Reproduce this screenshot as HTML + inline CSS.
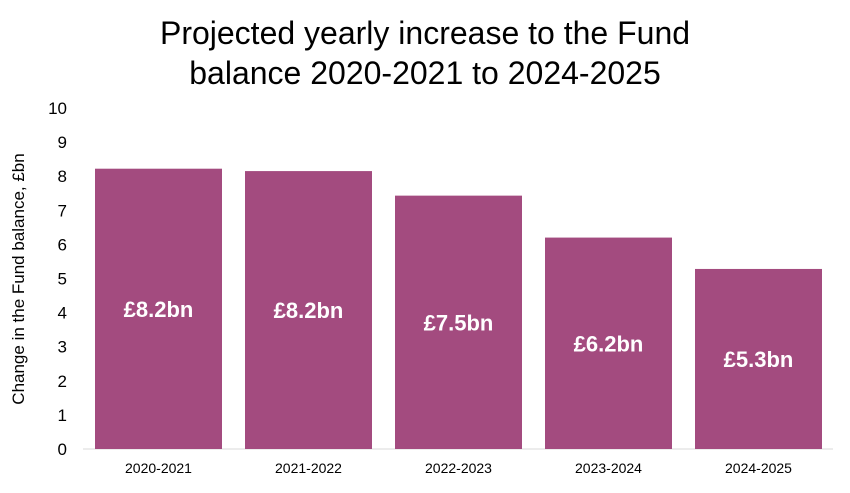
<!DOCTYPE html>
<html><head><meta charset="utf-8"><style>
body{margin:0;background:#fff;font-family:"Liberation Sans",Arial,sans-serif}
</style></head><body>
<svg width="850" height="488" viewBox="0 0 850 488">
<text x="425" y="44" text-anchor="middle" font-size="32" fill="#000">Projected yearly increase to the Fund</text>
<text x="425" y="84" text-anchor="middle" font-size="32" fill="#000">balance 2020-2021 to 2024-2025</text>
<text transform="translate(24,279) rotate(-90)" text-anchor="middle" font-size="17" fill="#000">Change in the Fund balance, £bn</text>
<g id="yticks"></g>
<line x1="83" y1="449" x2="833" y2="449" stroke="#d9d9d9" stroke-width="1"/>
<g id="bars"></g>
</svg>
<script>
const categories=["2020-2021","2021-2022","2022-2023","2023-2024","2024-2025"];
const values=[8.22,8.15,7.43,6.2,5.28];
const valueLabels=["£8.2bn","£8.2bn","£7.5bn","£6.2bn","£5.3bn"];
const yTicks=[0,1,2,3,4,5,6,7,8,9,10];
const NS="http://www.w3.org/2000/svg";
const y0=449,pxPerUnit=34.1,xStart=83.5,step=150,barW=127;
function yScale(v){return y0-v*pxPerUnit;}
function xScale(i){return xStart+i*step;}
const yt=document.getElementById("yticks");
yTicks.forEach(t=>{
 const e=document.createElementNS(NS,"text");
 
 
 e.setAttribute("x",67);e.setAttribute("y",yScale(t)+6);
 e.setAttribute("text-anchor","end");e.setAttribute("font-size","17");
 e.textContent=t;yt.appendChild(e);
});
const bg=document.getElementById("bars");
categories.forEach((c,i)=>{
 const x=xScale(i)+(step-barW)/2, top=yScale(values[i]);
 const r=document.createElementNS(NS,"rect");
 
 
 r.setAttribute("x",x);r.setAttribute("y",top);r.setAttribute("width",barW);r.setAttribute("height",y0-top);
 r.setAttribute("fill","#a34b7f");bg.appendChild(r);
 const l=document.createElementNS(NS,"text");
 
 
 l.setAttribute("x",x+barW/2);l.setAttribute("y",(top+y0)/2+8);
 l.setAttribute("text-anchor","middle");l.setAttribute("font-size","22");l.setAttribute("font-weight","bold");l.setAttribute("fill","#fff");
 l.textContent=valueLabels[i];bg.appendChild(l);
 const cl=document.createElementNS(NS,"text");
 
 
 cl.setAttribute("x",x+barW/2);cl.setAttribute("y",473);
 cl.setAttribute("text-anchor","middle");cl.setAttribute("font-size","14");
 cl.textContent=c;bg.appendChild(cl);
});
</script>
</body></html>
